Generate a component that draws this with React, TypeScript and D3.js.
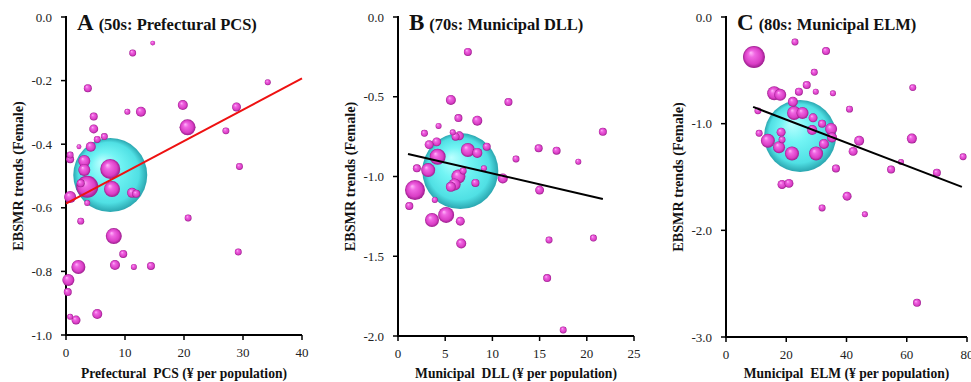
import * as d3 from 'd3';

// [x, y, weight] per prefecture / municipality; weight ~ population (bubble area)
const pcsPoints: Array<[number, number, number]> = [
  [14.7, -0.082, 6], [11.3, -0.113, 12], [34.2, -0.205, 9], [3.7, -0.224, 16],
  [19.8, -0.277, 25], [10.4, -0.298, 9], [12.7, -0.298, 25], [28.9, -0.283, 20],
  [20.6, -0.347, 64], [27.1, -0.358, 12], [29.4, -0.47, 12], [4.7, -0.313, 16],
  [4.7, -0.352, 20], [6.5, -0.376, 12], [5.3, -0.385, 12], [4.2, -0.408, 25],
  [2.2, -0.408, 6], [0.7, -0.434, 12], [0.7, -0.447, 16], [3.1, -0.453, 36],
  [3.1, -0.481, 36], [7.5, -0.478, 100], [3.6, -0.534, 121], [2.5, -0.523, 16],
  [7.8, -0.541, 64], [11.2, -0.553, 25], [11.9, -0.556, 16], [0.7, -0.566, 36],
  [3.6, -0.585, 9], [2.5, -0.642, 12], [8.1, -0.689, 64], [20.7, -0.632, 12],
  [29.2, -0.739, 12], [9.7, -0.745, 16], [8.3, -0.78, 25], [11.5, -0.786, 9],
  [14.4, -0.783, 16], [2.1, -0.786, 49], [0.4, -0.827, 36], [0.3, -0.865, 16],
  [5.3, -0.934, 25], [0.7, -0.943, 9], [1.7, -0.953, 20],
];
const pcsMean: [number, number, number] = [7.5, -0.497, 1369];
const pcsTrend: Array<[number, number]> = [[0, -0.587], [40, -0.193]];

const dllPoints: Array<[number, number, number]> = [
  [7.4, -0.219, 16], [5.6, -0.52, 25], [11.7, -0.533, 16], [6.4, -0.634, 16],
  [8.4, -0.65, 25], [4.3, -0.683, 9], [2.8, -0.729, 12], [5.8, -0.723, 9],
  [6.1, -0.75, 16], [6.5, -0.745, 20], [4.1, -0.783, 20], [3.3, -0.8, 20],
  [9.4, -0.813, 16], [7.4, -0.834, 49], [8.4, -0.852, 25], [14.9, -0.823, 16],
  [16.8, -0.838, 16], [21.7, -0.72, 16], [19.1, -0.907, 9], [12.5, -0.89, 12],
  [4.2, -0.876, 64], [2.0, -0.949, 16], [3.2, -0.96, 49], [9.1, -0.948, 9],
  [11.1, -1.012, 25], [6.9, -0.965, 12], [6.4, -1.0, 49], [8.2, -1.04, 16],
  [1.8, -1.085, 100], [6.0, -1.05, 36], [5.6, -1.065, 25], [15.0, -1.085, 20],
  [3.9, -1.147, 9], [1.2, -1.185, 16], [5.1, -1.241, 64], [3.6, -1.273, 49],
  [6.6, -1.28, 20], [6.7, -1.42, 25], [16.0, -1.398, 12], [20.7, -1.386, 12],
  [15.8, -1.637, 16], [17.5, -1.962, 12],
];
const dllMean: [number, number, number] = [6.6, -0.966, 1444];
const dllTrend: Array<[number, number]> = [[1.06, -0.859], [21.7, -1.141]];

const elmPoints: Array<[number, number, number]> = [
  [22.9, -0.234, 12], [33.2, -0.319, 16], [9.3, -0.375, 121], [29.3, -0.518, 12],
  [26.8, -0.637, 16], [29.8, -0.7, 9], [24.2, -0.7, 16], [35.5, -0.715, 9],
  [62.0, -0.662, 12], [16.0, -0.715, 49], [18.0, -0.73, 36], [22.2, -0.795, 25],
  [10.6, -0.88, 12], [41.0, -0.864, 12], [22.6, -0.9, 49], [25.4, -0.9, 36],
  [28.9, -0.945, 20], [31.9, -1.0, 16], [28.6, -1.06, 25], [34.9, -1.05, 36],
  [11.0, -1.09, 12], [18.3, -1.08, 20], [13.9, -1.16, 49], [18.6, -1.15, 12],
  [35.2, -1.13, 25], [44.2, -1.16, 25], [61.7, -1.14, 25], [17.6, -1.22, 36],
  [21.9, -1.28, 49], [29.9, -1.28, 49], [32.5, -1.19, 25], [42.2, -1.26, 20],
  [78.7, -1.31, 12], [58.1, -1.36, 9], [36.5, -1.42, 16], [54.8, -1.43, 16],
  [70.0, -1.46, 16], [18.6, -1.57, 20], [20.9, -1.56, 20], [40.2, -1.68, 20],
  [31.9, -1.79, 12], [46.1, -1.85, 9], [63.4, -2.68, 16],
];
const elmMean: [number, number, number] = [24.6, -1.115, 1296];
const elmTrend: Array<[number, number]> = [[9.0, -0.843], [78.3, -1.593]];

const pcsXTicks = [0, 10, 20, 30, 40];
const pcsYTicks = [0, -0.2, -0.4, -0.6, -0.8, -1.0];
const dllXTicks = [0, 5, 10, 15, 20, 25];
const dllYTicks = [0, -0.5, -1.0, -1.5, -2.0];
const elmXTicks = [0, 20, 40, 60, 80];
const elmYTicks = [0, -1.0, -2.0, -3.0];

const FONT = '"Liberation Serif", "Times New Roman", serif';

interface PanelProps {
  letter: string;
  title: string;
  xLabel: string;
  left: number;
  right: number;
  top: number;
  bottom: number;
  xTicks: number[];
  yTicks: number[];
  points: Array<[number, number, number]>;
  mean: [number, number, number];
  trend: Array<[number, number]>;
  trendColor: string;
}

function Panel(p: PanelProps) {
  const x = d3.scaleLinear()
    .domain([p.xTicks[0], p.xTicks[p.xTicks.length - 1]])
    .range([p.left, p.right]);
  const y = d3.scaleLinear()
    .domain([p.yTicks[p.yTicks.length - 1], 0])
    .range([p.bottom, p.top]);
  const r = d3.scaleSqrt().domain([0, 100]).range([0, 10]);
  const line = d3.line<[number, number]>().x(d => x(d[0])).y(d => y(d[1]));
  const ordered = [...p.points].sort((a, b) => b[2] - a[2]);

  return (
    <g>
      {/* axes */}
      <line x1={p.left} x2={p.left} y1={p.top - 1} y2={p.bottom} stroke="#000" strokeWidth={2} />
      <line x1={p.left - 1} x2={p.right} y1={p.bottom} y2={p.bottom} stroke="#000" strokeWidth={2} />
      {p.yTicks.map(t => (
        <g key={'y' + t}>
          <line x1={p.left - 5} x2={p.left} y1={y(t)} y2={y(t)} stroke="#000" strokeWidth={1.5} />
          <text x={p.left - 14} y={y(t)} dy="0.35em" textAnchor="end" fontSize={13} fill="#222">
            {t.toFixed(1)}
          </text>
        </g>
      ))}
      {p.xTicks.map(t => (
        <g key={'x' + t}>
          <line x1={x(t)} x2={x(t)} y1={p.bottom} y2={p.bottom + 5} stroke="#000" strokeWidth={1.5} />
          <text x={x(t)} y={p.bottom + 22} textAnchor="middle" fontSize={13} fill="#222">
            {t}
          </text>
        </g>
      ))}

      {/* bubbles */}
      <circle cx={x(p.mean[0])} cy={y(p.mean[1])} r={r(p.mean[2])} fill="url(#cyanBall)" />
      {ordered.map((d, i) => (
        <circle key={i} cx={x(d[0])} cy={y(d[1])} r={r(d[2])} fill="url(#pinkBall)" />
      ))}
      <path d={line(p.trend) || ''} stroke={p.trendColor} strokeWidth={2} fill="none" />

      {/* labels */}
      <text x={p.left + 11} y={30} fontWeight="bold" fill="#111">
        <tspan fontSize={23}>{p.letter}</tspan>
        <tspan fontSize={16.5} dx={5}>{p.title}</tspan>
      </text>
      <text
        x={(p.left + p.right) / 2}
        y={378}
        textAnchor="middle"
        fontSize={13.6}
        fontWeight="bold"
        fill="#111"
        style={{ whiteSpace: 'pre' }}
      >
        {p.xLabel}
      </text>
      <text
        transform={`translate(${p.left - 48},${(p.top + p.bottom) / 2}) rotate(-90)`}
        textAnchor="middle"
        dy="0.35em"
        fontSize={14.2}
        fontWeight="bold"
        fill="#111"
      >
        EBSMR trends (Female)
      </text>
    </g>
  );
}

export default function App() {
  return (
    <svg
      width={971}
      height={382}
      style={{ position: 'absolute', left: 0, top: 0, background: '#fff', fontFamily: FONT }}
    >
      <defs>
        <radialGradient id="pinkBall" cx="50%" cy="50%" r="50%" fx="35%" fy="30%">
          <stop offset="0%" stopColor="#ffb8fa" />
          <stop offset="30%" stopColor="#f066e2" />
          <stop offset="75%" stopColor="#da3ec6" />
          <stop offset="100%" stopColor="#9a1c8c" />
        </radialGradient>
        <radialGradient id="cyanBall" cx="50%" cy="50%" r="50%" fx="38%" fy="32%">
          <stop offset="0%" stopColor="#bcffff" />
          <stop offset="40%" stopColor="#72f4f4" />
          <stop offset="82%" stopColor="#50e0e4" />
          <stop offset="100%" stopColor="#2aa6b0" />
        </radialGradient>
      </defs>
      <rect width={971} height={382} fill="#fff" />
      <Panel
        letter="A"
        title="(50s: Prefectural PCS)"
        xLabel="Prefectural  PCS (¥ per population)"
        left={66} right={302} top={17} bottom={335}
        xTicks={pcsXTicks} yTicks={pcsYTicks}
        points={pcsPoints} mean={pcsMean} trend={pcsTrend}
        trendColor="#ee1111"
      />
      <Panel
        letter="B"
        title="(70s: Municipal DLL)"
        xLabel="Municipal  DLL (¥ per population)"
        left={398} right={634} top={17} bottom={336}
        xTicks={dllXTicks} yTicks={dllYTicks}
        points={dllPoints} mean={dllMean} trend={dllTrend}
        trendColor="#000"
      />
      <Panel
        letter="C"
        title="(80s: Municipal ELM)"
        xLabel="Municipal  ELM (¥ per population)"
        left={726} right={967} top={17} bottom={337}
        xTicks={elmXTicks} yTicks={elmYTicks}
        points={elmPoints} mean={elmMean} trend={elmTrend}
        trendColor="#000"
      />
    </svg>
  );
}
